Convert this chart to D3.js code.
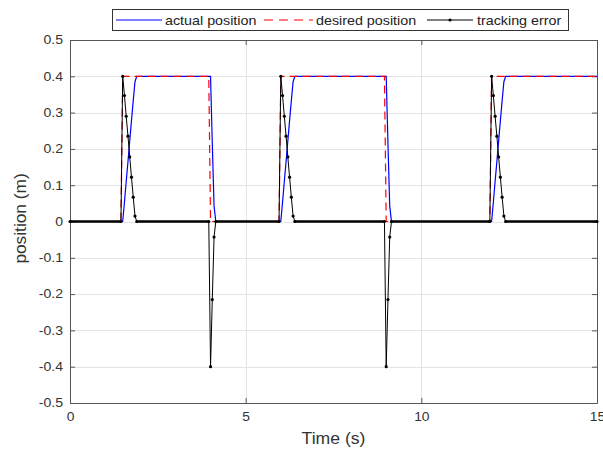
<!DOCTYPE html>
<html><head><meta charset="utf-8">
<script src="https://cdn.jsdelivr.net/npm/d3@7/dist/d3.min.js"></script>
<style>body{margin:0;background:#fff}text{font-family:Arial,"Liberation Sans",sans-serif}</style>
</head><body>
<script>
// ---- data ----
const xTicks = [0, 5, 10, 15];
const yTicks = [-0.5, -0.4, -0.3, -0.2, -0.1, 0, 0.1, 0.2, 0.3, 0.4, 0.5];
const seriesNames = ["actual position", "desired position", "tracking error"];

const desiredTime = [0, 1.45, 1.5, 3.95, 4.0, 5.95, 6.0, 8.95, 9.0, 11.95, 12.0, 15];
const desiredPos  = [0, 0, 0.4, 0.4, 0, 0, 0.4, 0.4, 0, 0, 0.4, 0.4];

const actualTime = [0, 1.5, 1.55, 1.6, 1.65, 1.7, 1.75, 1.8, 1.85, 1.9, 4.0, 4.05, 4.1, 4.15,
                    6.0, 6.05, 6.1, 6.15, 6.2, 6.25, 6.3, 6.35, 6.4, 9.0, 9.05, 9.1, 9.15,
                    12.0, 12.05, 12.1, 12.15, 12.2, 12.25, 12.3, 12.35, 12.4, 15];
const actualPos  = [0, 0, 0.053, 0.11, 0.165, 0.222, 0.278, 0.333, 0.385, 0.4, 0.4, 0.215, 0.043, 0,
                    0, 0.053, 0.11, 0.165, 0.222, 0.278, 0.333, 0.385, 0.4, 0.4, 0.215, 0.043, 0,
                    0, 0.053, 0.11, 0.165, 0.222, 0.278, 0.333, 0.385, 0.4, 0.4];

const errorTime = [0, 1.45, 1.5, 1.55, 1.6, 1.65, 1.7, 1.75, 1.8, 1.85, 1.9, 3.95, 4.0, 4.05, 4.1, 4.15,
                   5.95, 6.0, 6.05, 6.1, 6.15, 6.2, 6.25, 6.3, 6.35, 6.4, 8.95, 9.0, 9.05, 9.1, 9.15,
                   11.95, 12.0, 12.05, 12.1, 12.15, 12.2, 12.25, 12.3, 12.35, 12.4, 15];
const errorVal  = [0, 0, 0.4, 0.347, 0.29, 0.235, 0.178, 0.122, 0.067, 0.015, 0, 0, -0.4, -0.215, -0.043, 0,
                   0, 0.4, 0.347, 0.29, 0.235, 0.178, 0.122, 0.067, 0.015, 0, 0, -0.4, -0.215, -0.043, 0,
                   0, 0.4, 0.347, 0.29, 0.235, 0.178, 0.122, 0.067, 0.015, 0, 0];

// ---- chart ----
const W = 603, H = 450;
const L = 70, R = 597, T = 40, B = 403;
const svg = d3.select("body").append("svg").attr("width", W).attr("height", H);
svg.append("rect").attr("width", W).attr("height", H).attr("fill", "#fff");

const x = d3.scaleLinear().domain([0, 15]).range([L, R]);
const y = d3.scaleLinear().domain([-0.5, 0.5]).range([B, T]);

// widen text horizontally a little, as in the reference rendering
function stretch(sel, k) {
  sel.each(function () {
    const w = this.getComputedTextLength();
    if (w > 0) d3.select(this).attr("textLength", w * k).attr("lengthAdjust", "spacingAndGlyphs");
  });
}

// grid
const grid = svg.append("g").attr("stroke", "#e3e3e3").attr("stroke-width", 1);
grid.selectAll(".gx").data(xTicks).join("line")
  .attr("x1", d => Math.round(x(d)) + 0.5).attr("x2", d => Math.round(x(d)) + 0.5)
  .attr("y1", T).attr("y2", B);
grid.selectAll(".gy").data(yTicks).join("line")
  .attr("y1", d => Math.round(y(d)) + 0.5).attr("y2", d => Math.round(y(d)) + 0.5)
  .attr("x1", L).attr("x2", R);

const fmt = d => String(+d.toFixed(1));
const axisColor = "#555";
function styleAxis(g) {
  g.select(".domain").attr("stroke", axisColor);
  g.selectAll(".tick line").attr("stroke", axisColor);
  g.selectAll(".tick text").attr("fill", "#333").style("font-size", "12px");
}
svg.append("g").attr("transform", `translate(0,${B})`)
  .call(d3.axisBottom(x).tickValues(xTicks).tickFormat(fmt).tickSizeInner(-5).tickSizeOuter(0).tickPadding(9))
  .call(styleAxis).call(g => stretch(g.selectAll(".tick text"), 1.15));
svg.append("g").attr("transform", `translate(0,${T})`)
  .call(d3.axisTop(x).tickValues(xTicks).tickFormat("").tickSizeInner(-5).tickSizeOuter(0))
  .call(styleAxis);
svg.append("g").attr("transform", `translate(${L},0)`)
  .call(d3.axisLeft(y).tickValues(yTicks).tickFormat(fmt).tickSizeInner(-5).tickSizeOuter(0).tickPadding(7))
  .call(styleAxis).call(g => stretch(g.selectAll(".tick text"), 1.17));
svg.append("g").attr("transform", `translate(${R},0)`)
  .call(d3.axisRight(y).tickValues(yTicks).tickFormat("").tickSizeInner(-5).tickSizeOuter(0))
  .call(styleAxis);

const line = d3.line().x(d => x(d[0])).y(d => y(d[1]));
const actual = actualTime.map((t, i) => [t, actualPos[i]]);
const desired = desiredTime.map((t, i) => [t, desiredPos[i]]);
const err = errorTime.map((t, i) => [t, errorVal[i]]);

const plot = svg.append("g");
plot.append("path").attr("d", line(actual)).attr("fill", "none").attr("stroke", "#0000ff").attr("stroke-width", 1.2);
plot.append("path").attr("d", line(desired)).attr("fill", "none").attr("stroke", "#ff0000").attr("stroke-width", 1.2).attr("stroke-dasharray", "8,5");
plot.append("path").attr("d", line(err)).attr("fill", "none").attr("stroke", "#000").attr("stroke-width", 1);
// dense markers along flat zero stretches render as a thick line
const zeroSegs = d3.pairs(err).filter(p => p[0][1] === 0 && p[1][1] === 0);
plot.selectAll(".zs").data(zeroSegs).join("line")
  .attr("x1", d => x(d[0][0])).attr("x2", d => x(d[1][0]))
  .attr("y1", d => y(d[0][1])).attr("y2", d => y(d[1][1]))
  .attr("stroke", "#000").attr("stroke-width", 2.6);
plot.selectAll(".mk").data(err).join("circle")
  .attr("cx", d => x(d[0])).attr("cy", d => y(d[1])).attr("r", 1.6).attr("fill", "#000");

// labels
const xl = svg.append("text").attr("x", (L + R) / 2).attr("y", 444).attr("text-anchor", "middle")
  .attr("fill", "#333").style("font-size", "16px").text("Time (s)");
stretch(xl, 1.1);
const yl = svg.append("text").attr("transform", `translate(26,${(T + B) / 2 - 3}) rotate(-90)`).attr("text-anchor", "middle")
  .attr("fill", "#333").style("font-size", "16px").text("position (m)");
stretch(yl, 1.08);

// legend
const lg = svg.append("g");
lg.append("rect").attr("x", 112.5).attr("y", 9.5).attr("width", 456).attr("height", 21)
  .attr("fill", "#fff").attr("stroke", "#333").attr("stroke-width", 1);
const items = [
  {name: seriesNames[0], x0: 116, x1: 162, tx: 165, color: "#0000ff", dash: null, marker: false},
  {name: seriesNames[1], x0: 264, x1: 313, tx: 316, color: "#ff0000", dash: "9,6", marker: false},
  {name: seriesNames[2], x0: 427, x1: 473, tx: 477, color: "#000", dash: null, marker: true},
];
items.forEach(it => {
  lg.append("line").attr("x1", it.x0).attr("x2", it.x1).attr("y1", 20).attr("y2", 20)
    .attr("stroke", it.color).attr("stroke-width", 1.2).attr("stroke-dasharray", it.dash);
  if (it.marker) lg.append("circle").attr("cx", (it.x0 + it.x1) / 2).attr("cy", 20).attr("r", 1.6).attr("fill", "#000");
  const t = lg.append("text").attr("x", it.tx).attr("y", 24.5).attr("fill", "#222").style("font-size", "13px").text(it.name);
  stretch(t, 1.1);
});
</script>
</body></html>
